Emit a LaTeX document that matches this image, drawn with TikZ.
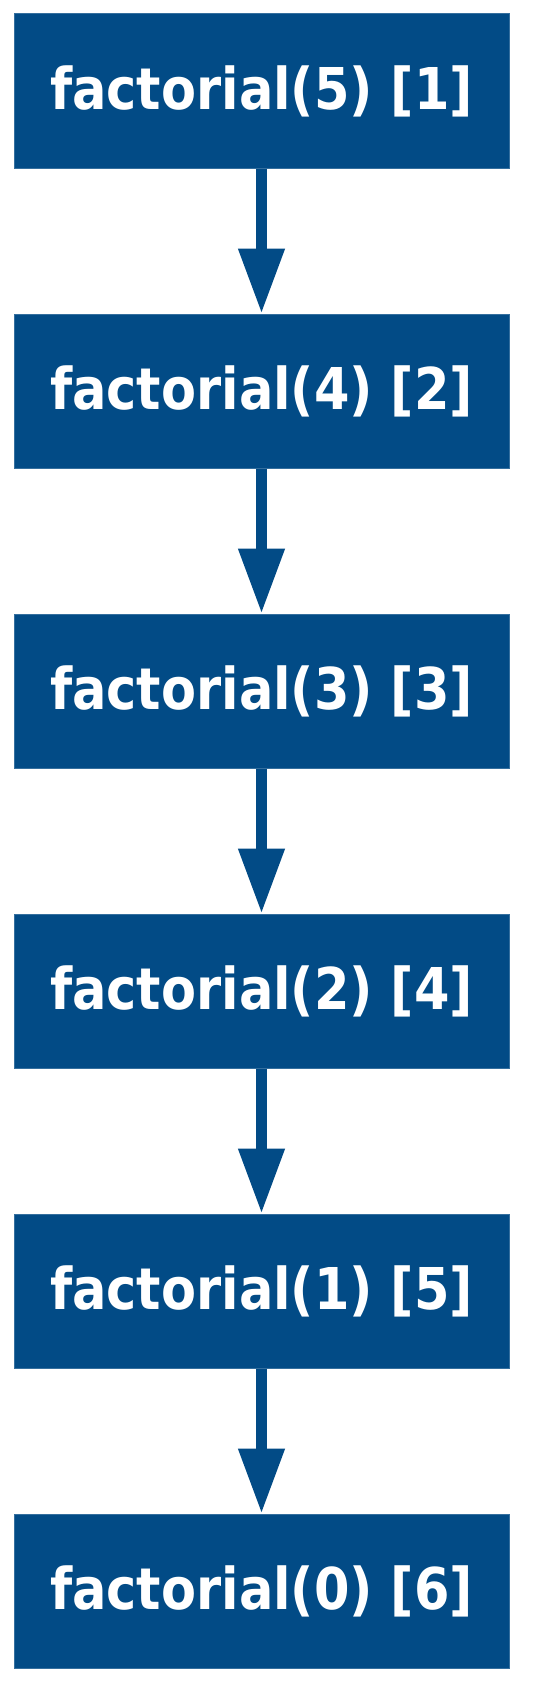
\documentclass[tikz,border=0pt]{standalone}
\usepackage{fontspec}
\setmainfont{DejaVu Sans}
\usepackage{xcolor}
\usetikzlibrary{arrows.meta}
\definecolor{callblue}{RGB}{2,75,134}
\newcommand{\calltext}[1]{\scalebox{1}[1.13]{#1}}
\tikzset{
  callbox/.style={fill=callblue, draw=callblue!80!white, line width=1pt,
    minimum width=495pt, minimum height=154pt, inner sep=0pt,
    text=white, font=\fontsize{51}{60}\selectfont\bfseries},
  callarrow/.style={draw=callblue, line width=11pt,
    -{Triangle[width=44pt,length=65pt]}}
}

\begin{document}
\begin{tikzpicture}[x=1pt, y=-1pt]
        % Frame
        \useasboundingbox (0,0) rectangle (554,1683);

        % Calls
        \node[callbox] (f5) at (261.5,91) {\calltext{factorial(5) [1]}};
        \node[callbox] (f4) at (261.5,391) {\calltext{factorial(4) [2]}};
        \node[callbox] (f3) at (261.5,691) {\calltext{factorial(3) [3]}};
        \node[callbox] (f2) at (261.5,991) {\calltext{factorial(2) [4]}};
        \node[callbox] (f1) at (261.5,1291) {\calltext{factorial(1) [5]}};
        \node[callbox] (f0) at (261.5,1591) {\calltext{factorial(0) [6]}};

        % Arrows
        \draw[callarrow] (f5) -- (f4);
        \draw[callarrow] (f4) -- (f3);
        \draw[callarrow] (f3) -- (f2);
        \draw[callarrow] (f2) -- (f1);
        \draw[callarrow] (f1) -- (f0);
    \end{tikzpicture}
\end{document}
